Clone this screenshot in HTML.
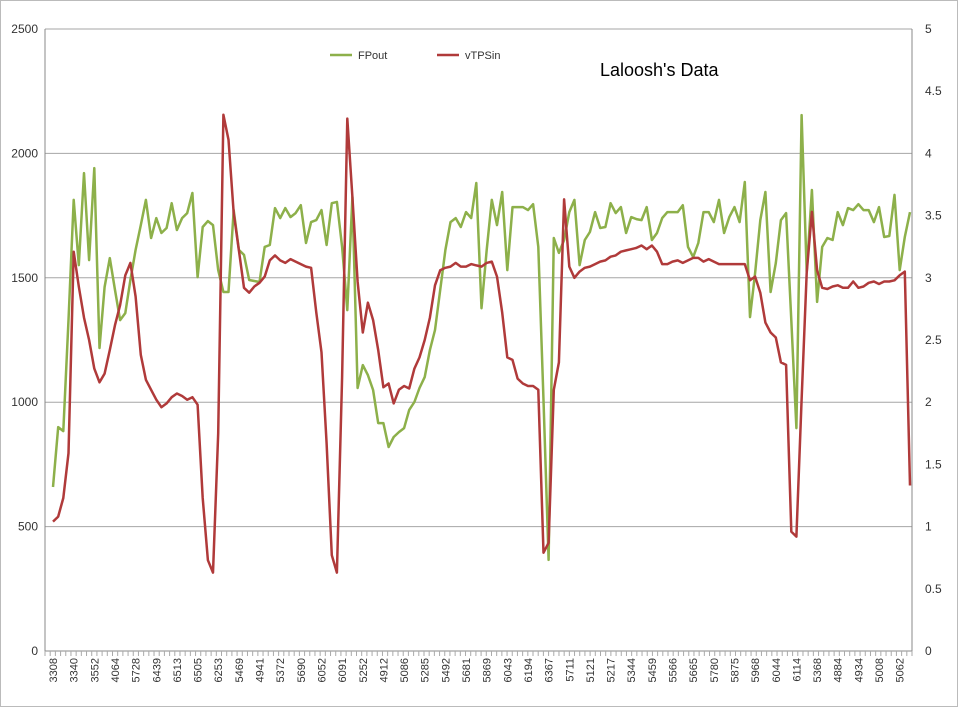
<!DOCTYPE html>
<html><head><meta charset="utf-8"><style>
body{margin:0;background:#fff;}
svg{display:block;font-family:"Liberation Sans",Arial,sans-serif;}
</style></head><body>
<svg id="chart" width="960" height="720" viewBox="0 0 960 720">
<rect x="0.5" y="0.5" width="957" height="706" fill="#fff" stroke="#bbb"/>
<g id="grid"></g>
<g id="axes"></g>
<g id="series"></g>
<text x="600" y="76" font-size="18" fill="#000">Laloosh's Data</text>
<g>
<line x1="330" y1="55" x2="352" y2="55" stroke="#8db04a" stroke-width="2.5"/>
<text x="358" y="59" font-size="11" fill="#333">FPout</text>
<line x1="437" y1="55" x2="459" y2="55" stroke="#b03a3a" stroke-width="2.5"/>
<text x="465" y="59" font-size="11" fill="#333">vTPSin</text>
</g>
</svg>
<script>
const xLabels=["3308","3340","3552","4064","5728","6439","6513","6505","6253","5469","4941","5372","5690","6052","6091","5252","4912","5086","5285","5492","5681","5869","6043","6194","6367","5711","5121","5217","5344","5459","5566","5665","5780","5875","5968","6044","6114","5368","4884","4934","5008","5062"];
const leftTicks=[0,500,1000,1500,2000,2500];
const rightTicks=[0,0.5,1,1.5,2,2.5,3,3.5,4,4.5,5];
const fpout=[659,900,884,1330,1813,1551,1921,1571,1941,1218,1463,1579,1451,1330,1358,1491,1612,1712,1813,1660,1740,1680,1700,1800,1692,1740,1760,1841,1503,1704,1728,1712,1531,1443,1443,1772,1612,1592,1491,1487,1483,1624,1632,1780,1740,1780,1744,1760,1792,1640,1724,1732,1772,1632,1800,1805,1624,1370,1825,1057,1149,1109,1049,916,916,820,860,880,896,969,1001,1057,1101,1210,1290,1451,1612,1724,1740,1704,1764,1740,1881,1378,1612,1813,1712,1845,1531,1784,1784,1784,1772,1796,1624,1009,366,1660,1600,1652,1764,1813,1551,1652,1684,1764,1700,1704,1800,1760,1784,1680,1744,1736,1732,1784,1652,1680,1740,1764,1764,1764,1792,1624,1583,1640,1764,1764,1724,1813,1680,1744,1784,1724,1885,1342,1519,1732,1845,1443,1559,1732,1760,1330,896,2154,1523,1853,1403,1624,1660,1652,1764,1712,1780,1772,1796,1772,1772,1724,1784,1664,1668,1833,1531,1664,1764];
const vtpsin=[1.04,1.08,1.23,1.59,3.21,2.93,2.68,2.50,2.27,2.16,2.23,2.42,2.62,2.78,3.02,3.12,2.85,2.38,2.18,2.10,2.02,1.96,1.99,2.04,2.07,2.05,2.02,2.04,1.98,1.23,0.73,0.63,1.75,4.31,4.11,3.52,3.22,2.92,2.88,2.93,2.96,3.01,3.14,3.18,3.14,3.12,3.15,3.13,3.11,3.09,3.08,2.72,2.40,1.67,0.77,0.63,2.20,4.28,3.65,2.97,2.56,2.80,2.66,2.42,2.12,2.15,1.99,2.10,2.13,2.11,2.27,2.36,2.50,2.68,2.94,3.06,3.08,3.09,3.12,3.09,3.09,3.11,3.10,3.09,3.12,3.13,3.01,2.72,2.36,2.34,2.19,2.15,2.13,2.13,2.10,0.79,0.87,2.10,2.32,3.63,3.09,3.00,3.05,3.08,3.09,3.11,3.13,3.14,3.17,3.18,3.21,3.22,3.23,3.24,3.26,3.23,3.26,3.21,3.11,3.11,3.13,3.14,3.12,3.14,3.16,3.16,3.13,3.15,3.13,3.11,3.11,3.11,3.11,3.11,3.11,2.98,3.01,2.88,2.64,2.56,2.52,2.32,2.30,0.96,0.92,2.02,3.04,3.53,3.06,2.92,2.91,2.93,2.94,2.92,2.92,2.97,2.92,2.93,2.96,2.97,2.95,2.97,2.97,2.98,3.02,3.05,1.33];
const labelEvery=4;

const NS="http://www.w3.org/2000/svg";
const L=45,R=912,T=29,B=651,X0=53,X1=910;
const n=fpout.length;
const xs=i=>X0+i*(X1-X0)/(n-1);
const yL=v=>B-(v/2500)*(B-T);
const yR=v=>B-(v/5)*(B-T);
function mk(tag,attrs,parent){const e=document.createElementNS(NS,tag);for(const k in attrs)e.setAttribute(k,attrs[k]);parent.appendChild(e);return e;}
const grid=document.getElementById('grid'),axes=document.getElementById('axes'),series=document.getElementById('series');
leftTicks.forEach(v=>{
  if(v>0){const g=mk('line',{x1:L,x2:R,y1:yL(v),y2:yL(v),stroke:'#a6a6a6','stroke-width':1},grid);
  
  }
  const t=mk('text',{x:38,y:yL(v)+4,'text-anchor':'end','font-size':12,fill:'#333'},axes);
  t.textContent=String(v);
  
  
});
rightTicks.forEach(v=>{
  const t=mk('text',{x:925,y:yR(v)+4,'text-anchor':'start','font-size':12,fill:'#333'},axes);
  t.textContent=String(v);
  
  
});
const la=mk('line',{x1:L,x2:L,y1:T,y2:B,stroke:'#888'},axes);


const ra=mk('line',{x1:R,x2:R,y1:T,y2:B,stroke:'#888'},axes);


const xa=mk('line',{x1:L,x2:R,y1:B,y2:B,stroke:'#888'},axes);


for(let i=0;i<=n;i++){const x=L+i*(R-L)/n;const tk=mk('line',{x1:x,x2:x,y1:B,y2:B+5,stroke:'#aaa'},axes);

}
xLabels.forEach((lab,k)=>{
  const x=xs(k*labelEvery)+4;
  const t=mk('text',{x:0,y:0,transform:`translate(${x},658) rotate(-90)`,'text-anchor':'end','font-size':11,fill:'#333'},axes);
  t.textContent=lab;
  
  
});
const p1=mk('polyline',{points:fpout.map((v,i)=>xs(i).toFixed(1)+','+yL(v).toFixed(1)).join(' '),fill:'none',stroke:'#8db04a','stroke-width':2.5,'stroke-linejoin':'round'},series);


const p2=mk('polyline',{points:vtpsin.map((v,i)=>xs(i).toFixed(1)+','+yR(v).toFixed(1)).join(' '),fill:'none',stroke:'#b03a3a','stroke-width':2.5,'stroke-linejoin':'round'},series);


</script>
</body></html>
